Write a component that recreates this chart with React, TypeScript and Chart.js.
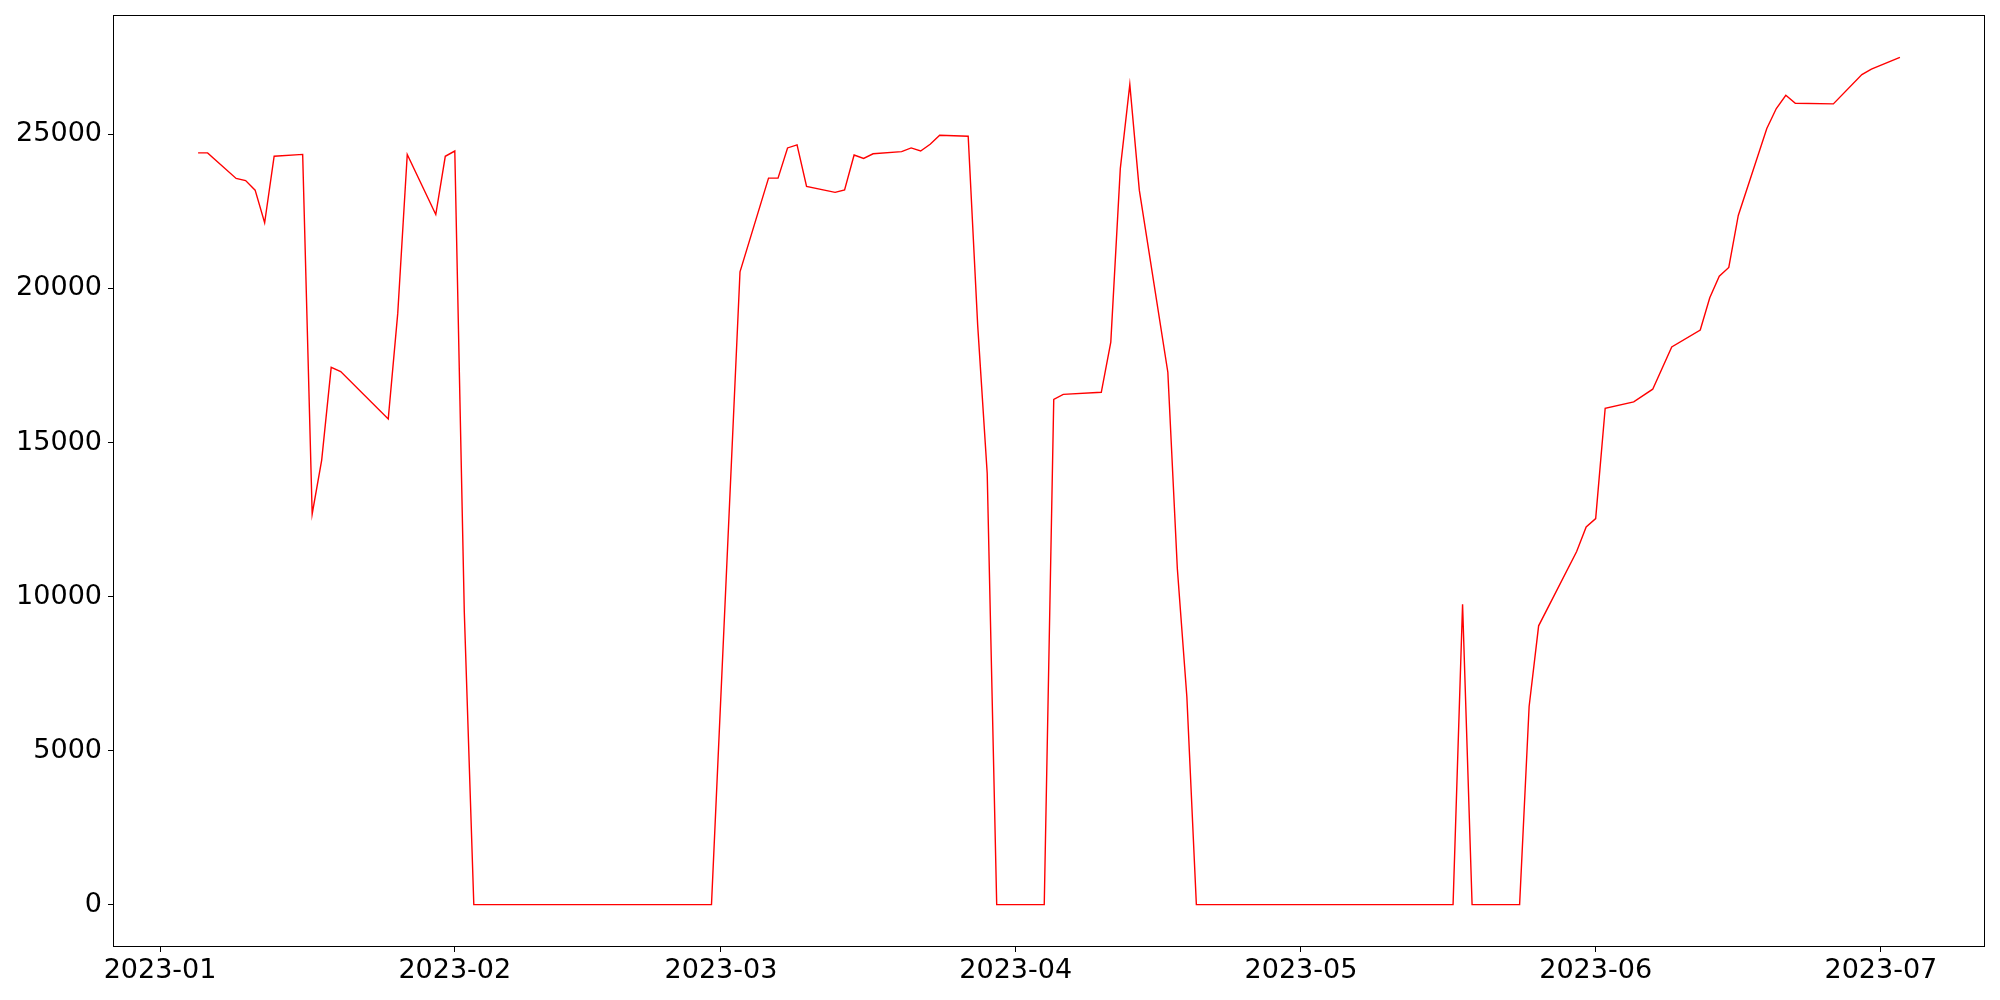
import React, { useEffect, useRef } from 'react';
import { Chart, registerables } from 'chart.js';

Chart.register(...registerables);

const dates: string[] = [
  '2023-01-05', '2023-01-06', '2023-01-09', '2023-01-10', '2023-01-11', '2023-01-12', '2023-01-13',
  '2023-01-16', '2023-01-17', '2023-01-18', '2023-01-19', '2023-01-20',
  '2023-01-25', '2023-01-26', '2023-01-27', '2023-01-30', '2023-01-31',
  '2023-02-01', '2023-02-02', '2023-02-03',
  '2023-02-06', '2023-02-07', '2023-02-08', '2023-02-09', '2023-02-10',
  '2023-02-13', '2023-02-14', '2023-02-15', '2023-02-16', '2023-02-17',
  '2023-02-20', '2023-02-21', '2023-02-22', '2023-02-23', '2023-02-24',
  '2023-02-27', '2023-02-28', '2023-03-03',
  '2023-03-06', '2023-03-07', '2023-03-08', '2023-03-09', '2023-03-10',
  '2023-03-13', '2023-03-14', '2023-03-15', '2023-03-16', '2023-03-17',
  '2023-03-20', '2023-03-21', '2023-03-22', '2023-03-23', '2023-03-24',
  '2023-03-27', '2023-03-28', '2023-03-29', '2023-03-30', '2023-03-31',
  '2023-04-03', '2023-04-04', '2023-04-05', '2023-04-06',
  '2023-04-10', '2023-04-11', '2023-04-12', '2023-04-13', '2023-04-14',
  '2023-04-17', '2023-04-18', '2023-04-19', '2023-04-20', '2023-04-21',
  '2023-04-24', '2023-04-25', '2023-04-26', '2023-04-27', '2023-04-28',
  '2023-05-01', '2023-05-02', '2023-05-03', '2023-05-04', '2023-05-05',
  '2023-05-08', '2023-05-09', '2023-05-10', '2023-05-11', '2023-05-12',
  '2023-05-15', '2023-05-16', '2023-05-17', '2023-05-18', '2023-05-19',
  '2023-05-22', '2023-05-23', '2023-05-24', '2023-05-25', '2023-05-26',
  '2023-05-30', '2023-05-31', '2023-06-01', '2023-06-02',
  '2023-06-05', '2023-06-07', '2023-06-09',
  '2023-06-12', '2023-06-13', '2023-06-14', '2023-06-15', '2023-06-16',
  '2023-06-19', '2023-06-20', '2023-06-21', '2023-06-22',
  '2023-06-26', '2023-06-29', '2023-06-30', '2023-07-03',
];

const values: number[] = [
  24400, 24400, 23570, 23500, 23190, 22130, 24290,
  24350, 12680, 14430, 17440, 17300,
  15760, 19190, 24350, 22400, 24290,
  24460, 9500, 0,
  0, 0, 0, 0, 0,
  0, 0, 0, 0, 0,
  0, 0, 0, 0, 0,
  0, 0, 20540,
  23580, 23580, 24560, 24660, 23310,
  23120, 23200, 24330, 24220, 24370,
  24440, 24560, 24460, 24680, 24970,
  24940, 18800, 14000, 0, 0,
  0, 0, 16400, 16560,
  16630, 18260, 23890, 26620, 23190,
  17280, 10900, 6750, 0, 0,
  0, 0, 0, 0, 0,
  0, 0, 0, 0, 0,
  0, 0, 0, 0, 0,
  0, 0, 0, 9750, 0,
  0, 0, 0, 6430, 9050,
  11460, 12260, 12530, 16110,
  16320, 16730, 18100,
  18650, 19700, 20400, 20680, 22370,
  25190, 25840, 26270, 26010,
  25990, 26940, 27120, 27500,
];

const xTickDates: string[] = ['2023-01-01', '2023-02-01', '2023-03-01', '2023-04-01', '2023-05-01', '2023-06-01', '2023-07-01'];
const xTickLabels: string[] = ['2023-01', '2023-02', '2023-03', '2023-04', '2023-05', '2023-06', '2023-07'];
const yTicks: number[] = [0, 5000, 10000, 15000, 20000, 25000];

const dayOf = (s: string): number =>
  (Date.UTC(+s.slice(0, 4), +s.slice(5, 7) - 1, +s.slice(8, 10)) - Date.UTC(2023, 0, 1)) / 86400000;

const framePlugin = {
  id: 'frame',
  afterDraw(chart: any) {
    const { ctx, chartArea } = chart;
    const l = Math.round(chartArea.left) + 0.5;
    const t = Math.round(chartArea.top) + 0.5;
    const r = Math.round(chartArea.right) - 0.5;
    const b = Math.round(chartArea.bottom) - 0.5;
    ctx.save();
    ctx.strokeStyle = '#000000';
    ctx.lineWidth = 1;
    ctx.strokeRect(l, t, r - l, b - t);
    ctx.restore();
  },
};

export default function App() {
  const ref = useRef<HTMLCanvasElement | null>(null);

  useEffect(() => {
    document.body.style.margin = '0';
    if (!ref.current) return;
    const xs = dates.map(dayOf);
    const xMinData = Math.min(...xs);
    const xMaxData = Math.max(...xs);
    const xSpan = xMaxData - xMinData;
    const yMaxData = Math.max(...values);
    const yMinData = Math.min(...values);
    const ySpan = yMaxData - yMinData;
    const tickDays = xTickDates.map(dayOf);
    const font = { family: '"DejaVu Sans", sans-serif', size: 27 };

    const chart = new Chart(ref.current, {
      type: 'line',
      data: {
        datasets: [
          {
            data: xs.map((x, i) => ({ x, y: values[i] })),
            borderColor: '#ff0000',
            borderWidth: 1.4,
            pointRadius: 0,
            tension: 0,
            fill: false,
          },
        ],
      },
      options: {
        animation: false,
        responsive: false,
        devicePixelRatio: 1,
        layout: { padding: { top: 15, right: 15, left: 0, bottom: 0 } },
        plugins: { legend: { display: false }, tooltip: { enabled: false } },
        scales: {
          x: {
            type: 'linear',
            min: xMinData - 0.05 * xSpan,
            max: xMaxData + 0.05 * xSpan,
            afterBuildTicks: (axis: any) => {
              axis.ticks = tickDays.map((v) => ({ value: v }));
            },
            afterFit: (axis: any) => {
              axis.height = 53;
              axis.paddingLeft = 0;
              axis.paddingRight = 0;
            },
            ticks: {
              autoSkip: false,
              maxRotation: 0,
              minRotation: 0,
              padding: 3,
              color: '#000000',
              font,
              callback: (v: any) => {
                const idx = tickDays.indexOf(Number(v));
                return idx >= 0 ? xTickLabels[idx] : '';
              },
            },
            grid: { display: true, drawOnChartArea: false, drawTicks: true, tickLength: 5, color: '#000000' },
            border: { display: false },
          },
          y: {
            type: 'linear',
            min: yMinData - 0.05 * ySpan,
            max: yMaxData + 0.05 * ySpan,
            afterBuildTicks: (axis: any) => {
              axis.ticks = yTicks.map((v) => ({ value: v }));
            },
            afterFit: (axis: any) => {
              axis.width = 113;
              axis.paddingTop = 0;
              axis.paddingBottom = 0;
            },
            ticks: {
              autoSkip: false,
              padding: 6,
              color: '#000000',
              font,
              callback: (v: any) => String(v),
            },
            grid: { display: true, drawOnChartArea: false, drawTicks: true, tickLength: 5, color: '#000000' },
            border: { display: false },
          },
        },
      },
      plugins: [framePlugin],
    });
    return () => chart.destroy();
  }, []);

  return (
    <div style={{ width: 2000, height: 1000, background: '#ffffff' }}>
      <canvas ref={ref} width={2000} height={1000} style={{ display: 'block' }} />
    </div>
  );
}
